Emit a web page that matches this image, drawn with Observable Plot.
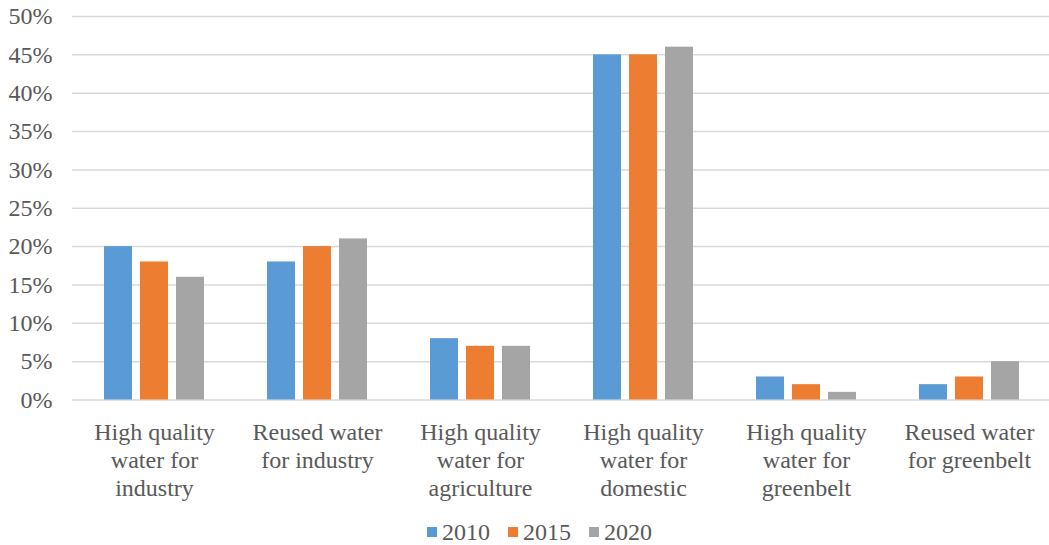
<!DOCTYPE html>
<html>
<head>
<meta charset="utf-8">
<script src="https://cdn.jsdelivr.net/npm/d3@7"></script>
<script src="https://cdn.jsdelivr.net/npm/@observablehq/plot@0.6"></script>
<style>
  html, body { margin: 0; padding: 0; background: #fff; overflow: hidden; }
  #chart { width: 1049px; }
  .legend {
    display: flex; justify-content: center; align-items: center;
    height: 24px; line-height: 24px; margin-top: 15px; padding-left: 30px;
    font-family: "Liberation Serif", "Times New Roman", serif; font-size: 24px; color: #595959;
  }
  .legend .item { display: flex; align-items: center; margin: 0 9px; }
  .legend .sw { width: 10px; height: 10px; margin-right: 5px; }
</style>
</head>
<body>
<div id="chart"></div>
<script>
// Share of water supply by use, 2010 / 2015 / 2020
const categories = [
  "High quality\nwater for\nindustry",
  "Reused water\nfor industry",
  "High quality\nwater for\nagriculture",
  "High quality\nwater for\ndomestic",
  "High quality\nwater for\ngreenbelt",
  "Reused water\nfor greenbelt"
];
const years = ["2010", "2015", "2020"];
const values2010 = [20, 18, 8, 45, 3, 2];
const values2015 = [18, 20, 7, 45, 2, 3];
const values2020 = [16, 21, 7, 46, 1, 5];
const yTicks = [0, 5, 10, 15, 20, 25, 30, 35, 40, 45, 50];
const colors = ["#5B9BD5", "#ED7D31", "#A5A5A5"];

const series = [values2010, values2015, values2020];
const rows = years.map((year, i) =>
  categories.map((category, j) => ({category, year, value: series[i][j]}))
);

const font = "'Liberation Serif', 'Times New Roman', serif";
const textColor = "#595959";
const groupOffsets = [-36, 0, 36];

const chart = Plot.plot({
  width: 1049,
  height: 505,
  marginLeft: 72,
  marginRight: 0,
  marginTop: 16,
  marginBottom: 105.5,
  style: {fontFamily: font, fontSize: "24px", color: textColor, background: "#fff", overflow: "visible"},
  x: {
    type: "band",
    domain: categories,
    range: [72, 1052],
    paddingInner: 0.8256,
    paddingOuter: 0.4128,
    axis: null
  },
  y: {domain: [0, 50], range: [399.5, 16], axis: null},
  marks: [
    Plot.gridY(yTicks, {stroke: "#D9D9D9", strokeOpacity: 1, strokeWidth: 1.5}),
    ...rows.map((data, i) =>
      Plot.barY(data, {x: "category", y: "value", fill: colors[i], dx: groupOffsets[i]})
    ),
    Plot.axisY(yTicks, {
      tickSize: 0, tickPadding: 20, tickFormat: d => d + "%",
      fontSize: 24, fill: textColor, fontFamily: font, label: null
    }),
    Plot.axisX(categories, {
      tickSize: 0, tickPadding: 20, lineHeight: 1.17,
      fontSize: 24, fill: textColor, fontFamily: font, label: null
    })
  ]
});
document.getElementById("chart").appendChild(chart);

const legend = document.createElement("div");
legend.className = "legend";
years.forEach((year, i) => {
  const item = document.createElement("div");
  item.className = "item";
  const sw = document.createElement("span");
  sw.className = "sw";
  sw.style.background = colors[i];
  const label = document.createElement("span");
  label.textContent = year;
  item.appendChild(sw);
  item.appendChild(label);
  legend.appendChild(item);
});
document.getElementById("chart").appendChild(legend);
</script>
</body>
</html>
